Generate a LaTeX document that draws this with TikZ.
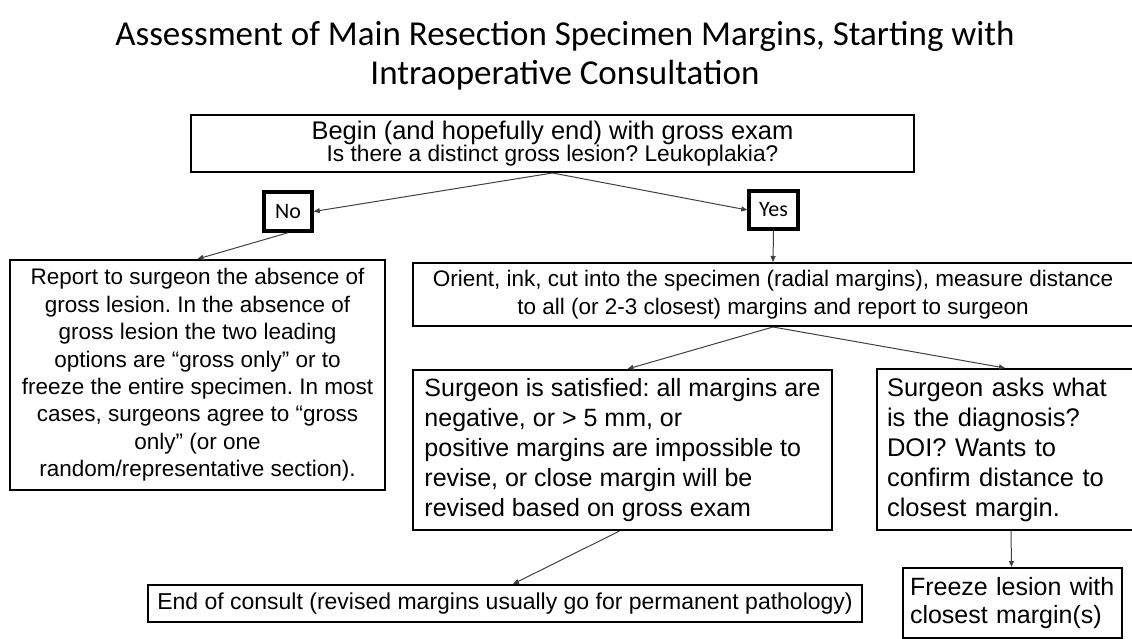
\documentclass[tikz,border=0pt]{standalone}
\usepackage{fontspec}
\setmainfont{Liberation Sans}
\newfontfamily\titlefont{Carlito}
\usepackage{xcolor}
\usepackage{tikz}
\usetikzlibrary{arrows.meta, positioning}
\definecolor{linegray}{HTML}{404040}

\tikzset{
  box/.style={draw, line width=2pt, inner sep=0pt, align=center},
  answer/.style={draw, line width=3.5pt, inner sep=0pt, font=\titlefont\fontsize{22}{26}\selectfont},
  link/.style={draw=linegray, line width=1pt, -{Triangle[length=6pt,width=5pt]}},
}

\begin{document}
\frenchspacing
\begin{tikzpicture}[x=1pt, y=-1pt]
    \useasboundingbox (0,0) rectangle (1132,639);
    \clip (0,0) rectangle (1132,639);
    \node[font=\titlefont\fontsize{35}{39}\selectfont, align=center] (title) at (565,56)
        {Assessment of Main Resection Specimen Margins, Starting with\\Intraoperative Consultation};

    % question and answers
    \node[box, minimum width=723pt, minimum height=57pt] (gross) at (552.5,143.5)
        {\fontsize{25.5}{29}\selectfont Begin (and hopefully end) with gross exam\\
         \fontsize{22.7}{27}\selectfont Is there a distinct gross lesion? Leukoplakia?};
    \node[answer, minimum width=48pt, minimum height=39pt] (no) at (288,211.5) {No};
    \node[answer, minimum width=49pt, minimum height=38pt] (yes) at (773.5,210) {Yes};

    % no lesion
    \node[box, minimum width=375pt, minimum height=230pt, font=\fontsize{22.5}{27.4}\selectfont] (absent) at (197.5,375)
        {Report to surgeon the absence of\\gross lesion. In the absence of\\gross lesion the two leading\\options are “gross only” or to\\freeze the entire specimen. In most\\cases, surgeons agree to “gross\\only” (or one\\random/representative section).};

    % lesion present
    \node[box, minimum width=720pt, minimum height=63pt, font=\fontsize{22.5}{28}\selectfont] (orient) at (773,294.5)
        {Orient, ink, cut into the specimen (radial margins), measure distance\\to all (or 2-3 closest) margins and report to surgeon};
    \node[box, align=left, minimum width=419pt, minimum height=160pt, font=\fontsize{25}{30}\selectfont] (satisfied) at (622.5,450)
        {Surgeon is satisfied: all margins are\\negative, or > 5 mm, or\\positive margins are impossible to\\revise, or close margin will be\\revised based on gross exam};
    \node[box, align=left, text width=236pt, minimum width=256pt, minimum height=161pt, font=\fontsize{25.5}{30}\selectfont] (asks) at (1005,449.5)
        {Surgeon asks what\\is the diagnosis?\\DOI? Wants to\\confirm distance to\\closest margin.};
    \node[box, minimum width=714pt, minimum height=37pt, font=\fontsize{23}{27}\selectfont] (endconsult) at (505,603.5)
        {End of consult (revised margins usually go for permanent pathology)};
    \node[box, align=left, text width=205pt, minimum width=219pt, minimum height=70pt, font=\fontsize{25}{28}\selectfont] (freeze) at (1012.5,603)
        {Freeze lesion with\\closest margin(s)};

    \draw[link] (gross.south) -- (no.east);
    \draw[link] (gross.south) -- (yes.west);
    \draw[link] (no.south) -- (absent.north);
    \draw[link] (yes.south) -- (orient.north);
    \draw[link] (orient.south) -- ([xshift=5pt]satisfied.north);
    \draw[link] (orient.south) -- (asks.north);
    \draw[link] ([xshift=-3pt]satisfied.south) -- ([xshift=8pt]endconsult.north);
    \draw[link] ([xshift=6pt]asks.south) -- ([xshift=-1pt]freeze.north);
\end{tikzpicture}
\end{document}
